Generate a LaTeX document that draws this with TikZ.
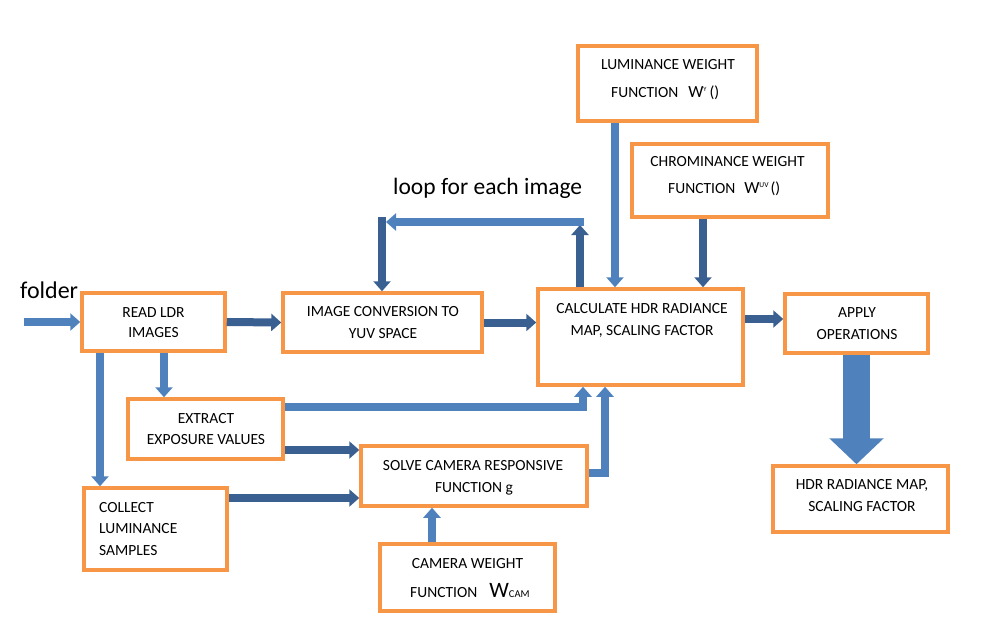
\documentclass[tikz,border=0pt]{standalone}
\usepackage{fontspec}
\setmainfont{Carlito}
\usetikzlibrary{arrows.meta}
\definecolor{ltblue}{RGB}{79,129,189}
\definecolor{dkblue}{RGB}{58,96,146}
\definecolor{orng}{RGB}{247,150,70}
\newcommand\bigW[1]{{\fontsize{#1}{#1}\selectfont W}}
\newcommand\tinytxt[2]{{\fontsize{#1}{#1}\selectfont #2}}
\begin{document}
\begin{tikzpicture}[x=1pt,y=-1pt,
  box/.style={draw=orng, line width=3.5pt, inner sep=0pt},
  txt/.style={font=\fontsize{15.5}{21.5}\selectfont, inner sep=0pt, anchor=base},
  txtl/.style={txt, anchor=base west},
  ltarrow/.style={draw=ltblue, line width=8pt, -{Triangle[width=17pt,length=10pt]}},
  dkarrow/.style={draw=dkblue, line width=8pt, -{Triangle[width=17pt,length=10pt]}},
  bigarrow/.style={draw=ltblue, line width=27pt, -{Triangle[width=53pt,length=26pt]}}]
\useasboundingbox (0,0) rectangle (991,643);

% boxes
\node[box, minimum width=143pt, minimum height=58pt] (read) at (153.5,322) {};
\node[box, minimum width=199pt, minimum height=59pt] (conv) at (382.5,322.5) {};
\node[box, minimum width=205pt, minimum height=96pt] (calc) at (640.5,337) {};
\node[box, minimum width=143pt, minimum height=59pt] (apply) at (856.5,323.5) {};
\node[box, minimum width=175pt, minimum height=66pt] (out) at (860.5,499) {};
\node[box, minimum width=179pt, minimum height=75pt] (lum) at (667.5,83.5) {};
\node[box, minimum width=196pt, minimum height=73pt] (chrom) at (730,180.5) {};
\node[box, minimum width=155pt, minimum height=60pt] (extract) at (205.5,429) {};
\node[box, minimum width=226pt, minimum height=60pt] (solve) at (474,476) {};
\node[box, minimum width=143pt, minimum height=82pt] (collect) at (155.5,529) {};
\node[box, minimum width=175pt, minimum height=67pt] (cam) at (467.5,577.5) {};

% texts
\node[txtl, font=\fontsize{24}{24}\selectfont] (folder) at (20,298) {folder};
\node[txtl, font=\fontsize{23.5}{24}\selectfont] (loop) at (393,194) {loop for each image};

\node[txt] (readA) at (153.5,317) {READ LDR};
\node[txt] (readB) at (153.5,337) {IMAGES};
\node[txt] (convA) at (383,316) {IMAGE CONVERSION TO};
\node[txt] (convB) at (383,338) {YUV SPACE};
\node[txt] (calcA) at (642,313) {CALCULATE HDR RADIANCE};
\node[txt] (calcB) at (642,335) {MAP, SCALING FACTOR};
\node[txt] (applyA) at (857,317) {APPLY};
\node[txt] (applyB) at (857,339) {OPERATIONS};
\node[txt] (outA) at (862,489) {HDR RADIANCE MAP,};
\node[txt] (outB) at (862,511) {SCALING FACTOR};
\node[txt] (lumA) at (668,69) {LUMINANCE WEIGHT};
\node[txtl] (lumB) at (611,97) {FUNCTION\hspace{10pt}\bigW{17}\raisebox{6pt}{\tinytxt{6.5}{Y}}\hspace{3pt}\tinytxt{16}{()}};
\node[txt] (chromA) at (727.5,166) {CHROMINANCE WEIGHT};
\node[txtl] (chromB) at (668,193) {FUNCTION\hspace{9pt}\bigW{17}\raisebox{6pt}{\tinytxt{7.5}{UV}}\hspace{2pt}\tinytxt{16}{()}};
\node[txt] (extractA) at (206,423) {EXTRACT};
\node[txt] (extractB) at (206,444) {EXPOSURE VALUES};
\node[txt] (solveA) at (473,470) {SOLVE CAMERA RESPONSIVE};
\node[txt] (solveB) at (474,492) {FUNCTION g};
\node[txtl] (collectA) at (99,512) {COLLECT};
\node[txtl] (collectB) at (99,533) {LUMINANCE};
\node[txtl] (collectC) at (99,555) {SAMPLES};
\node[txt] (camA) at (467.5,568) {CAMERA WEIGHT};
\node[txtl] (camB) at (410,597) {FUNCTION\hspace{12pt}\bigW{22}\tinytxt{10.5}{CAM}};

% helper coordinates
\coordinate (fin) at (24,322);
\coordinate (ap) at (0,319);
\coordinate (xl) at (615,0);
\coordinate (xc) at (703,0);
\coordinate (xu) at (580,0);
\coordinate (lu) at (580,225);
\coordinate (lr) at (584,222);
\coordinate (ll) at (386,222);
\coordinate (ltop) at (382,217);
\coordinate (xe) at (164,0);
\coordinate (xcol) at (100,0);
\coordinate (ey) at (0,407);
\coordinate (xe2) at (583,0);
\coordinate (sy) at (0,473);
\coordinate (xs) at (605,0);
\coordinate (dy1) at (0,450);
\coordinate (dy2) at (0,498);
\coordinate (xcam) at (432,0);

% connectors
\draw[ltarrow] (fin) -- (read.west);
\draw[dkarrow] (read.east) -- (conv.west);
\draw[dkarrow] (conv.east) -- (conv.east -| calc.west);
\draw[dkarrow] (ap -| calc.east) -- (ap -| apply.west);
\draw[bigarrow] (apply.south) -- (apply.south |- out.north);
\draw[ltarrow] (xl |- lum.south) -- (xl |- calc.north);
\draw[dkarrow] (xc |- chrom.south) -- (xc |- calc.north);
\draw[dkarrow] (xu |- calc.north) -- (lu);
\draw[ltarrow] (lr) -- (ll);
\draw[dkarrow] (ltop) -- (ltop |- conv.north);
\draw[ltarrow] (xe |- read.south) -- (xe |- extract.north);
\draw[ltarrow] (xcol |- read.south) -- (xcol |- collect.north);
\draw[ltarrow] (ey -| extract.east) -| (xe2 |- calc.south);
\draw[ltarrow] (sy -| solve.east) -| (xs |- calc.south);
\draw[dkarrow] (dy1 -| extract.east) -- (dy1 -| solve.west);
\draw[dkarrow] (dy2 -| collect.east) -- (dy2 -| solve.west);
\draw[ltarrow] (xcam |- cam.north) -- (xcam |- solve.south);
\end{tikzpicture}
\end{document}
